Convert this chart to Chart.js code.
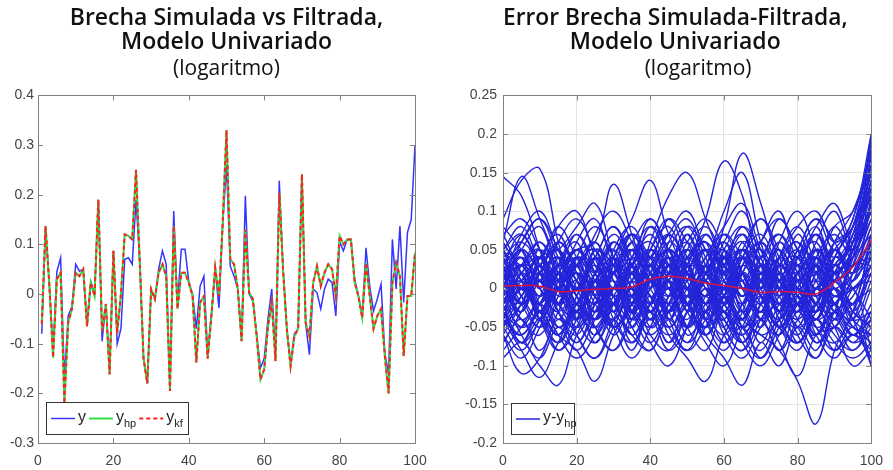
<!DOCTYPE html>
<html>
<head>
<meta charset="utf-8">
<script src="https://cdn.jsdelivr.net/npm/chart.js@4.4.0/dist/chart.umd.min.js"></script>
<style>
  html, body { margin: 0; padding: 0; background: #fff; }
  #wrap { position: relative; width: 893px; height: 470px; }
  #leftChart { position: absolute; left: 0; top: 0; }
  #rightChart { position: absolute; left: 450px; top: 0; }
</style>
</head>
<body>
<div id="wrap">
  <canvas id="leftChart" width="450" height="470"></canvas>
  <canvas id="rightChart" width="443" height="470"></canvas>
</div>
<script>
// ---- data: left panel (periods 1..100) ----
const periods = Array.from({ length: 100 }, (_, i) => i + 1);

const ySim = [
  -0.08, 0.13, 0.02, -0.115, 0.045, 0.073, -0.17, -0.044, -0.025, 0.06,
  0.046, 0.05, -0.06, 0.025, 0.0, 0.19, -0.095, -0.02, -0.15, 0.087,
  -0.1, -0.07, 0.07, 0.073, 0.06, 0.19, 0.063, -0.13, -0.18, 0.01,
  -0.01, 0.05, 0.087, 0.06, -0.19, 0.167, -0.02, 0.09, 0.09, 0.025,
  0.0, -0.07, 0.016, 0.036, -0.12, -0.04, 0.05, -0.028, 0.14, 0.26,
  0.056, 0.036, 0.01, -0.09, 0.198, 0.0, -0.015, -0.08, -0.149, -0.13,
  -0.05, 0.01, -0.12, 0.228, 0.05, -0.07, -0.14, -0.08, -0.07, 0.241,
  -0.06, -0.122, 0.01, 0.003, -0.03, 0.01, 0.03, 0.023, -0.044, 0.105,
  0.087, 0.11, 0.11, 0.03, -0.004, -0.045, 0.093, 0.015, -0.034, -0.01,
  0.02, -0.12, -0.16, 0.11, 0.01, 0.137, -0.017, 0.124, 0.15, 0.30
];

const yHp = [
  -0.06, 0.137, 0.02, -0.128, 0.03, 0.043, -0.22, -0.058, -0.03, 0.043,
  0.036, 0.05, -0.065, 0.023, -0.004, 0.19, -0.075, -0.02, -0.162, 0.087,
  -0.08, 0.0, 0.12, 0.117, 0.11, 0.25, 0.063, -0.13, -0.18, 0.01,
  -0.01, 0.043, 0.06, 0.036, -0.195, 0.137, -0.03, 0.043, 0.043, 0.023,
  -0.004, -0.138, -0.017, -0.004, -0.13, -0.044, 0.053, -0.004, 0.144, 0.33,
  0.07, 0.06, 0.01, -0.095, 0.13, 0.003, -0.01, -0.085, -0.172, -0.152,
  -0.065, -0.017, -0.135, 0.204, 0.05, -0.07, -0.145, -0.085, -0.07, 0.241,
  -0.058, -0.085, 0.023, 0.056, 0.016, 0.043, 0.06, 0.05, -0.004, 0.117,
  0.1, 0.11, 0.11, 0.023, -0.004, -0.048, 0.063, -0.004, -0.07, -0.044,
  -0.03, -0.125, -0.2, 0.023, 0.063, 0.036, -0.125, -0.004, -0.004, 0.083
];

// the Kalman-filter gap sits on top of the HP gap in the picture
const yKf = yHp;

// ---- data: right panel (error runs, read every 5 periods) ----
const errX = [0, 5, 10, 15, 20, 25, 30, 35, 40, 45, 50, 55, 60, 65, 70, 75, 80, 85, 90, 95, 100];

const errMean = [0.003, 0.004, 0.003, -0.004, -0.003, -0.001, 0.0, 0.002, 0.012, 0.016,
  0.013, 0.007, 0.004, 0.0, -0.005, -0.004, -0.005, -0.007, 0.008, 0.028, 0.063];

const errRuns = [
  [0.145, 0.12, 0.05, -0.02, 0.03, -0.04, 0.02, -0.03, 0.04, 0.01, -0.05, 0.02, 0.04, -0.03, 0.01, 0.05, -0.02, 0.03, -0.04, 0.02, 0.08],
  [0.09, 0.14, 0.155, 0.06, -0.02, 0.04, -0.03, 0.05, 0.02, -0.04, 0.03, 0.06, -0.02, 0.01, -0.05, 0.03, 0.04, -0.02, 0.05, 0.01, 0.12],
  [0.06, 0.145, 0.09, 0.03, -0.04, 0.02, 0.05, -0.03, 0.0, 0.04, -0.02, -0.05, 0.03, 0.02, -0.03, 0.04, 0.0, -0.04, 0.02, 0.06, 0.15],
  [0.02, -0.03, 0.04, 0.05, 0.08, 0.11, 0.04, -0.02, 0.03, -0.04, 0.02, 0.05, -0.01, -0.04, 0.03, 0.01, -0.03, 0.05, 0.0, -0.03, 0.02],
  [0.01, 0.04, -0.03, 0.02, 0.05, 0.06, 0.135, 0.07, 0.01, 0.05, 0.02, -0.03, 0.04, 0.02, -0.02, 0.03, 0.06, -0.01, -0.04, 0.05, 0.10],
  [-0.02, 0.03, 0.05, -0.01, 0.02, -0.03, 0.04, 0.09, 0.14, 0.07, 0.03, 0.05, -0.02, 0.03, 0.05, -0.03, 0.02, 0.04, -0.02, 0.03, 0.04],
  [0.03, -0.02, 0.01, 0.04, -0.03, 0.05, 0.02, -0.01, 0.06, 0.12, 0.15, 0.09, 0.03, -0.02, 0.04, 0.01, -0.03, 0.05, 0.02, -0.02, 0.07],
  [0.0, 0.03, -0.02, 0.04, 0.01, -0.03, 0.02, 0.05, -0.01, 0.03, 0.06, 0.02, 0.08, 0.175, 0.11, 0.03, -0.02, 0.04, 0.02, 0.05, 0.14],
  [-0.03, 0.02, 0.04, -0.02, 0.03, 0.05, -0.01, 0.02, 0.04, -0.03, 0.03, 0.09, 0.165, 0.12, 0.03, 0.05, 0.01, -0.03, 0.04, 0.03, 0.18],
  [0.05, 0.01, -0.03, 0.03, 0.06, 0.0, 0.03, -0.02, 0.02, 0.05, 0.03, 0.04, 0.10, 0.15, 0.06, 0.0, 0.04, 0.06, 0.01, 0.04, 0.2],
  [-0.09, -0.07, -0.10, -0.125, -0.06, -0.02, 0.02, -0.03, 0.01, 0.04, -0.02, 0.03, 0.0, -0.04, 0.02, -0.01, 0.03, -0.03, 0.01, -0.04, -0.06],
  [-0.03, -0.05, -0.02, -0.06, -0.08, -0.12, -0.06, -0.02, 0.03, -0.01, 0.02, -0.03, 0.04, 0.01, -0.02, 0.03, -0.01, -0.04, 0.02, -0.02, 0.03],
  [-0.06, -0.11, -0.09, -0.04, -0.07, -0.03, 0.01, -0.04, -0.02, 0.03, -0.03, 0.0, -0.05, 0.02, -0.01, -0.04, 0.01, 0.02, -0.03, 0.0, -0.08],
  [-0.04, -0.08, -0.115, -0.07, -0.03, -0.06, -0.02, 0.02, -0.04, 0.0, -0.06, -0.03, 0.01, -0.05, -0.02, 0.01, -0.04, -0.06, -0.01, -0.04, -0.1],
  [0.02, -0.02, 0.01, -0.04, 0.0, -0.03, 0.02, -0.05, -0.01, -0.06, -0.09, -0.12, -0.06, -0.03, -0.07, -0.02, 0.0, -0.04, -0.02, 0.01, 0.04],
  [-0.01, 0.02, -0.04, 0.0, -0.03, 0.01, -0.05, -0.02, 0.02, -0.04, -0.01, -0.06, -0.09, -0.125, -0.07, -0.1, -0.05, -0.08, -0.03, -0.05, 0.0],
  [0.01, -0.03, 0.02, -0.02, 0.03, -0.01, -0.04, 0.0, -0.03, 0.02, -0.02, -0.05, -0.01, -0.04, -0.06, -0.08, -0.12, -0.175, -0.08, -0.03, 0.06],
  [-0.02, 0.01, -0.03, 0.02, -0.01, -0.04, 0.0, 0.03, -0.02, -0.05, -0.02, 0.01, -0.04, -0.06, -0.03, -0.07, -0.113, -0.06, -0.05, -0.02, -0.1],
  [0.03, 0.0, 0.05, -0.02, 0.03, 0.06, 0.01, -0.03, 0.02, 0.05, -0.01, 0.02, 0.06, 0.0, -0.03, 0.02, 0.05, 0.01, -0.02, 0.04, 0.09],
  [-0.05, -0.02, 0.03, 0.05, -0.01, -0.04, 0.02, 0.05, 0.0, -0.03, 0.04, 0.01, -0.04, 0.03, 0.06, 0.01, -0.03, 0.02, 0.05, 0.02, 0.05],
  [0.05, 0.07, 0.02, -0.03, -0.06, -0.01, 0.04, 0.07, 0.02, -0.02, 0.01, 0.05, 0.03, -0.02, -0.05, 0.0, 0.04, 0.07, 0.03, 0.06, 0.16],
  [0.0, -0.04, -0.06, -0.01, 0.04, 0.02, -0.03, -0.05, 0.01, 0.06, 0.03, -0.02, -0.04, 0.02, 0.05, 0.0, -0.05, -0.02, 0.03, 0.0, -0.04],
  [0.02, 0.05, 0.0, 0.06, 0.02, -0.02, 0.05, 0.08, 0.03, 0.0, 0.07, 0.02, -0.01, 0.06, 0.03, -0.02, 0.02, 0.07, 0.04, 0.07, 0.12],
  [-0.07, -0.03, 0.01, -0.05, -0.02, 0.03, -0.04, -0.07, -0.02, 0.01, -0.05, -0.02, 0.02, -0.03, -0.06, -0.04, -0.01, -0.05, -0.07, -0.03, 0.02],
  [0.04, -0.01, -0.05, 0.0, 0.06, 0.09, 0.03, 0.0, 0.05, 0.08, 0.02, -0.03, 0.02, 0.07, 0.04, 0.09, 0.05, 0.0, 0.06, 0.1, 0.17],
  [-0.01, 0.03, 0.06, 0.02, -0.04, -0.07, -0.02, 0.02, -0.05, -0.02, 0.03, 0.07, 0.02, -0.03, 0.01, -0.04, -0.07, -0.03, 0.0, -0.05, -0.06],
  [0.06, 0.02, -0.02, 0.03, 0.0, 0.04, 0.08, 0.03, -0.02, 0.02, 0.08, 0.05, 0.0, 0.04, 0.09, 0.04, 0.0, 0.03, 0.08, 0.05, 0.1],
  [-0.04, 0.0, -0.03, -0.07, -0.03, 0.01, -0.02, -0.06, -0.08, -0.03, 0.0, -0.04, -0.07, -0.02, 0.02, -0.02, -0.05, -0.09, -0.04, -0.07, -0.03],
  [0.01, -0.02, 0.02, 0.06, 0.03, -0.01, -0.05, -0.01, 0.04, 0.07, 0.03, -0.02, 0.03, 0.06, -0.01, -0.04, 0.0, 0.04, 0.01, 0.08, 0.13],
  [0.03, 0.06, 0.09, 0.04, 0.0, 0.05, 0.03, -0.01, 0.03, 0.07, 0.1, 0.05, 0.02, 0.05, 0.0, 0.06, 0.1, 0.05, 0.01, 0.04, 0.07],
  [-0.03, -0.06, -0.02, 0.02, -0.02, -0.05, -0.08, -0.04, 0.01, -0.03, -0.07, -0.04, 0.0, -0.05, -0.08, -0.03, 0.01, -0.02, -0.06, -0.08, -0.05],
  [0.02, 0.04, 0.0, -0.03, 0.01, 0.07, 0.1, 0.06, 0.01, -0.03, 0.0, 0.04, 0.08, 0.11, 0.05, 0.01, 0.05, 0.09, 0.06, 0.02, 0.11],
  [-0.06, -0.09, -0.05, 0.0, 0.03, -0.01, -0.06, -0.03, -0.07, -0.1, -0.05, 0.0, -0.03, -0.07, -0.04, -0.08, -0.04, 0.0, -0.04, -0.02, 0.0],
  [0.0, 0.05, 0.03, 0.08, 0.1, 0.04, -0.01, 0.03, 0.09, 0.04, -0.02, 0.02, 0.05, 0.0, 0.06, 0.1, 0.04, 0.08, 0.11, 0.06, 0.14],
  [0.04, 0.01, -0.04, -0.08, -0.04, 0.01, 0.04, 0.0, -0.04, -0.01, 0.05, 0.01, -0.05, -0.08, -0.02, 0.02, -0.02, -0.07, -0.03, 0.03, 0.03],
  [-0.02, 0.01, 0.04, 0.0, -0.05, -0.02, 0.03, 0.06, 0.09, 0.05, 0.0, -0.04, -0.01, 0.04, 0.02, -0.03, 0.03, 0.0, 0.05, 0.08, 0.19],
  [0.07, 0.09, 0.05, 0.01, 0.05, 0.02, -0.03, 0.01, 0.05, 0.02, 0.06, 0.09, 0.05, 0.0, 0.03, 0.07, 0.03, -0.01, 0.03, 0.0, 0.03],
  [-0.05, -0.01, 0.02, -0.02, -0.06, -0.09, -0.04, 0.0, -0.03, 0.01, -0.03, -0.07, -0.1, -0.05, -0.01, -0.05, -0.08, -0.04, -0.08, -0.06, -0.09],
  [0.01, 0.07, 0.1, 0.05, 0.01, -0.02, 0.02, 0.07, 0.04, 0.09, 0.06, 0.02, 0.07, 0.04, 0.0, 0.04, 0.08, 0.1, 0.06, 0.09, 0.2],
  [-0.03, -0.07, -0.04, 0.01, 0.05, 0.02, 0.06, 0.03, -0.01, -0.05, -0.08, -0.03, 0.0, 0.05, 0.01, -0.03, -0.06, -0.02, -0.05, -0.1, -0.08],
  [0.02, -0.01, -0.04, 0.01, 0.04, 0.0, -0.05, -0.02, 0.03, 0.0, -0.04, 0.02, 0.05, 0.01, -0.03, 0.03, 0.0, -0.04, 0.01, 0.05, 0.11],
  [-0.02, 0.03, 0.0, -0.05, -0.01, 0.04, 0.01, -0.03, 0.02, 0.05, 0.01, -0.04, 0.0, 0.04, 0.0, -0.05, -0.01, 0.03, -0.02, -0.04, 0.05],
  [0.04, 0.0, 0.03, 0.05, 0.01, -0.03, 0.0, 0.05, 0.02, -0.02, 0.04, 0.06, 0.02, -0.02, 0.02, 0.05, 0.01, -0.03, 0.02, 0.07, 0.15],
  [-0.04, -0.01, 0.02, -0.03, -0.05, 0.0, 0.03, -0.02, -0.05, -0.01, 0.02, -0.03, -0.06, -0.02, 0.01, -0.03, -0.05, 0.0, -0.03, -0.06, -0.02],
  [0.0, 0.04, 0.01, -0.02, 0.03, 0.05, 0.0, 0.03, -0.03, 0.01, 0.05, 0.0, -0.03, 0.02, 0.06, 0.02, -0.02, 0.01, 0.05, 0.03, 0.08],
  [0.03, -0.02, -0.05, -0.02, 0.02, -0.01, -0.04, 0.01, 0.04, 0.0, -0.02, -0.06, -0.02, 0.03, -0.01, -0.05, -0.02, 0.02, -0.01, 0.02, 0.06],
  [-0.01, 0.02, 0.05, 0.02, -0.02, 0.02, 0.06, 0.02, -0.02, 0.03, 0.0, 0.03, 0.06, 0.02, -0.03, 0.01, 0.04, 0.0, 0.04, 0.09, 0.18],
  [0.01, -0.04, -0.01, 0.03, -0.01, -0.05, -0.02, 0.02, -0.01, -0.05, -0.01, 0.02, -0.02, -0.05, -0.01, 0.03, -0.01, -0.05, -0.03, -0.01, 0.04],
  [0.05, 0.02, -0.01, 0.02, 0.05, 0.01, -0.02, 0.04, 0.06, 0.01, -0.02, 0.01, 0.03, -0.01, 0.04, 0.07, 0.02, -0.01, 0.02, 0.04, 0.1],
  [-0.05, -0.02, 0.01, -0.02, -0.04, 0.01, 0.03, -0.01, -0.04, 0.02, 0.04, 0.0, -0.03, -0.06, -0.02, 0.02, -0.02, -0.04, 0.0, -0.03, -0.05],
  [0.02, 0.05, 0.02, -0.02, 0.0, 0.03, -0.01, -0.04, 0.0, 0.04, 0.02, -0.02, 0.01, 0.05, 0.03, -0.01, -0.04, 0.0, 0.03, 0.06, 0.12],
  [-0.03, 0.0, -0.02, 0.02, 0.05, 0.02, -0.02, 0.01, -0.03, -0.06, -0.03, 0.01, 0.04, 0.0, -0.04, -0.01, 0.02, 0.05, 0.01, 0.0, 0.02],
  [0.0, -0.03, 0.02, 0.04, 0.0, -0.04, -0.01, 0.03, 0.05, 0.02, -0.01, 0.03, -0.02, -0.04, 0.01, 0.04, 0.06, 0.02, -0.02, 0.05, 0.13],
  [0.04, 0.06, 0.03, 0.0, -0.03, 0.01, 0.04, 0.0, -0.03, 0.01, 0.04, 0.06, 0.02, -0.01, 0.03, 0.0, -0.03, 0.02, 0.05, 0.01, 0.06],
  [-0.01, -0.05, -0.03, 0.0, 0.02, -0.02, -0.05, -0.02, 0.01, 0.04, 0.0, -0.05, -0.02, 0.0, -0.04, -0.06, -0.02, 0.01, -0.02, -0.05, -0.07],
  [0.01, 0.03, -0.01, 0.03, 0.0, 0.04, 0.02, 0.05, 0.01, -0.01, 0.02, -0.01, 0.02, 0.04, 0.0, 0.03, 0.01, 0.03, 0.0, 0.03, 0.09],
  [-0.02, 0.0, 0.04, 0.01, -0.03, -0.05, 0.0, 0.04, 0.01, -0.02, -0.05, -0.01, 0.03, 0.05, 0.01, -0.03, 0.01, -0.02, -0.05, 0.0, 0.01],
  [0.03, 0.0, -0.03, -0.06, -0.02, 0.02, 0.05, 0.01, -0.03, 0.02, 0.05, 0.02, -0.01, -0.04, 0.0, 0.03, -0.01, -0.03, 0.03, 0.06, 0.16],
  [-0.04, -0.06, -0.02, 0.01, -0.02, -0.04, 0.0, -0.03, -0.06, -0.03, 0.0, -0.04, -0.01, 0.02, -0.02, -0.05, -0.07, -0.03, 0.0, -0.04, -0.03],
  [0.02, 0.01, 0.04, 0.0, 0.04, 0.02, -0.02, 0.02, 0.05, 0.03, 0.0, 0.05, 0.03, 0.05, 0.01, 0.04, 0.02, 0.05, 0.02, 0.05, 0.1],
  [0.06, 0.02, -0.03, 0.03, 0.07, 0.03, -0.02, 0.04, 0.08, 0.03, -0.02, 0.03, 0.07, 0.02, -0.03, 0.04, 0.08, 0.03, -0.02, 0.06, 0.14],
  [-0.06, -0.02, 0.03, -0.03, -0.07, -0.02, 0.03, -0.03, -0.07, -0.02, 0.03, -0.04, -0.08, -0.03, 0.02, -0.04, -0.07, -0.02, 0.02, -0.03, -0.05],
  [0.07, 0.03, 0.06, 0.01, -0.04, 0.02, 0.07, 0.03, -0.02, 0.05, 0.08, 0.03, -0.02, 0.04, 0.07, 0.02, -0.03, 0.04, 0.07, 0.04, 0.13],
  [-0.07, -0.04, -0.08, -0.03, 0.01, -0.05, -0.08, -0.03, 0.01, -0.04, -0.08, -0.05, -0.01, -0.06, -0.09, -0.04, 0.0, -0.05, -0.08, -0.05, -0.09],
  [0.05, 0.08, 0.03, -0.02, 0.04, 0.08, 0.04, -0.01, 0.05, 0.09, 0.04, -0.01, 0.05, 0.08, 0.03, -0.02, 0.04, 0.08, 0.03, 0.07, 0.17],
  [-0.05, -0.08, -0.04, 0.0, -0.06, -0.09, -0.05, -0.01, -0.06, -0.08, -0.03, 0.01, -0.05, -0.08, -0.04, 0.0, -0.06, -0.09, -0.05, -0.07, -0.06],
  [0.0, 0.06, 0.09, 0.05, 0.0, 0.04, 0.08, 0.04, 0.0, 0.06, 0.09, 0.04, 0.0, 0.05, 0.09, 0.05, 0.01, 0.06, 0.1, 0.05, 0.11],
  [-0.02, -0.07, -0.04, -0.08, -0.05, 0.0, -0.05, -0.09, -0.05, 0.0, -0.05, -0.08, -0.03, -0.07, -0.1, -0.06, -0.02, -0.07, -0.05, -0.08, -0.04],
  [0.04, -0.02, 0.02, 0.06, 0.02, -0.03, 0.03, 0.07, 0.02, -0.03, 0.02, 0.06, 0.01, -0.04, 0.01, 0.06, 0.02, -0.03, 0.04, 0.08, 0.15],
  [-0.04, 0.02, -0.02, -0.06, -0.01, 0.04, -0.01, -0.06, -0.02, 0.03, -0.02, -0.06, -0.01, 0.04, -0.01, -0.05, 0.0, 0.04, -0.02, -0.04, 0.01],
  [0.08, 0.05, 0.01, 0.06, 0.09, 0.05, 0.02, 0.07, 0.04, 0.0, 0.05, 0.08, 0.04, 0.01, 0.06, 0.09, 0.05, 0.02, 0.06, 0.08, 0.19],
  [-0.08, -0.05, -0.02, -0.06, -0.09, -0.06, -0.02, -0.07, -0.04, -0.08, -0.05, -0.01, -0.06, -0.09, -0.05, -0.02, -0.07, -0.04, -0.07, -0.09, -0.07],
  [0.03, 0.07, 0.04, 0.08, 0.04, 0.0, 0.06, 0.03, 0.08, 0.05, 0.01, 0.07, 0.04, 0.08, 0.05, 0.01, 0.07, 0.03, 0.08, 0.1, 0.16],
  [-0.03, -0.07, -0.03, -0.06, -0.02, -0.07, -0.04, -0.08, -0.03, -0.07, -0.02, -0.06, -0.03, -0.07, -0.04, -0.08, -0.03, -0.06, -0.02, -0.06, -0.03],
  [0.01, 0.05, 0.08, 0.03, 0.07, 0.02, -0.02, 0.03, 0.07, 0.03, 0.07, 0.02, 0.06, 0.1, 0.04, 0.0, 0.05, 0.09, 0.05, 0.08, 0.12],
  [-0.01, -0.06, -0.09, -0.05, -0.08, -0.04, 0.0, -0.05, -0.08, -0.04, -0.07, -0.03, -0.07, -0.05, -0.09, -0.05, -0.01, -0.06, -0.09, -0.06, -0.08],
  [0.05, 0.0, 0.04, 0.07, 0.03, 0.06, 0.02, 0.06, 0.03, 0.07, 0.03, -0.01, 0.04, 0.07, 0.02, 0.06, 0.03, 0.07, 0.02, 0.05, 0.14],
  [-0.05, 0.0, -0.04, -0.07, -0.03, -0.06, -0.02, -0.06, -0.03, -0.07, -0.03, 0.01, -0.04, -0.07, -0.03, -0.06, -0.02, -0.06, -0.03, -0.06, -0.04],
  [0.02, -0.03, 0.03, -0.02, 0.04, -0.01, 0.04, -0.02, 0.03, -0.03, 0.03, -0.02, 0.04, -0.01, 0.03, -0.03, 0.02, -0.02, 0.04, 0.02, 0.07],
  [-0.02, 0.03, -0.03, 0.02, -0.04, 0.01, -0.03, 0.03, -0.02, 0.04, -0.02, 0.03, -0.03, 0.02, -0.04, 0.02, -0.03, 0.03, -0.01, 0.0, 0.03]
];

// ---- shared style bits ----
const FONT = 'Liberation Sans, Arial, sans-serif';
const tickFont = { family: FONT, size: 14 };
const fmt = v => String(+Number(v).toFixed(2));

// axes box, inward ticks and a legend with subscripts (MATLAB look)
function framePlugin(legend) {
  return {
    id: 'frame',
    afterDatasetsDraw(chart) {
      const { ctx, chartArea: a, scales } = chart;
      ctx.save();
      ctx.strokeStyle = '#808080';
      ctx.lineWidth = 1;
      ctx.beginPath();
      scales.x.ticks.forEach(t => {
        const px = Math.round(scales.x.getPixelForValue(t.value)) + 0.5;
        ctx.moveTo(px, a.bottom); ctx.lineTo(px, a.bottom - 5);
        ctx.moveTo(px, a.top); ctx.lineTo(px, a.top + 5);
      });
      scales.y.ticks.forEach(t => {
        const py = Math.round(scales.y.getPixelForValue(t.value)) + 0.5;
        ctx.moveTo(a.left, py); ctx.lineTo(a.left + 5, py);
        ctx.moveTo(a.right, py); ctx.lineTo(a.right - 5, py);
      });
      ctx.stroke();
      ctx.strokeRect(Math.round(a.left) + 0.5, Math.round(a.top) + 0.5,
        Math.round(a.right - a.left), Math.round(a.bottom - a.top));

      // legend
      const bx = Math.round(a.left + legend.dx), by = Math.round(a.bottom - legend.dy);
      ctx.fillStyle = '#fff';
      ctx.fillRect(bx, by, legend.w, legend.h);
      ctx.strokeStyle = '#333';
      ctx.strokeRect(bx + 0.5, by + 0.5, legend.w, legend.h);
      const cy = by + legend.h / 2 + 0.5;
      let x = bx + 5;
      legend.items.forEach(it => {
        ctx.beginPath();
        ctx.setLineDash(it.dash || []);
        ctx.strokeStyle = it.color;
        ctx.lineWidth = it.width;
        ctx.moveTo(x, cy); ctx.lineTo(x + 24, cy);
        ctx.stroke();
        ctx.setLineDash([]);
        x += 27;
        ctx.fillStyle = '#222';
        ctx.textBaseline = 'middle';
        ctx.font = '16px ' + FONT;
        ctx.fillText(it.text, x, cy - 1);
        x += ctx.measureText(it.text).width;
        if (it.sub) {
          ctx.font = '11px ' + FONT;
          ctx.fillText(it.sub, x, cy + 5);
          x += ctx.measureText(it.sub).width;
        }
        x += 3;
      });
      ctx.restore();
    }
  };
}

function baseOptions(o) {
  return {
    responsive: false,
    animation: false,
    events: [],
    layout: { padding: { left: 0, right: o.padRight, top: 0, bottom: 0 } },
    plugins: {
      legend: { display: false },
      tooltip: { enabled: false },
      title: {
        display: true,
        text: o.title,
        fullSize: false,
        color: '#111',
        font: { family: 'Open Sans, ' + FONT, size: 23, weight: '600', lineHeight: 1.05 },
        padding: { top: 6, bottom: 0 }
      },
      subtitle: {
        display: true,
        text: o.subtitle,
        fullSize: false,
        color: '#111',
        font: { family: 'Open Sans, ' + FONT, size: 21, weight: 'normal', lineHeight: 1.1 },
        padding: { top: 3, bottom: 15 }
      }
    },
    scales: {
      x: {
        type: 'linear', min: 0, max: 100,
        ticks: { stepSize: 20, font: tickFont, color: '#444', padding: 10, maxRotation: 0 },
        grid: { display: o.grid, color: '#e4e4e4', drawTicks: false },
        border: { display: false },
        afterFit: s => { s.height = 27; }
      },
      y: {
        min: o.yMin, max: o.yMax,
        ticks: { stepSize: o.yStep, font: tickFont, color: '#444', padding: o.yPad, callback: fmt },
        grid: { display: o.grid, color: '#e4e4e4', drawTicks: false },
        border: { display: false },
        afterFit: s => { s.width = o.yWidth; }
      }
    }
  };
}

// ---- left chart ----
const pts = (xs, ys) => ys.map((v, i) => ({ x: xs[i], y: v }));

new Chart(document.getElementById('leftChart'), {
  type: 'line',
  data: {
    datasets: [
      { label: 'y_kf', data: pts(periods, yKf), borderColor: '#ff2020', borderWidth: 2,
        borderDash: [4, 3], pointRadius: 0, tension: 0, order: 0 },
      { label: 'y_hp', data: pts(periods, yHp), borderColor: '#33dd44', borderWidth: 2,
        pointRadius: 0, tension: 0, order: 1 },
      { label: 'y', data: pts(periods, ySim), borderColor: '#3535ff', borderWidth: 1.5,
        pointRadius: 0, tension: 0, order: 2 }
    ]
  },
  options: baseOptions({
    title: ['Brecha Simulada vs Filtrada,', 'Modelo Univariado'],
    subtitle: '(logaritmo)',
    padRight: 35, yWidth: 38, yPad: 4, grid: false,
    yMin: -0.3, yMax: 0.4, yStep: 0.1
  }),
  plugins: [framePlugin({
    dx: 8, dy: 41, w: 142, h: 32,
    items: [
      { color: '#3535ff', width: 1.5, text: 'y' },
      { color: '#33dd44', width: 2, text: 'y', sub: 'hp' },
      { color: '#ff2020', width: 2, dash: [4, 3], text: 'y', sub: 'kf' }
    ]
  })]
});

// ---- right chart ----
const runSets = errRuns.map(r => ({
  data: pts(errX, r), borderColor: '#2424d8', borderWidth: 1.4,
  pointRadius: 0, tension: 0.4, order: 1
}));

new Chart(document.getElementById('rightChart'), {
  type: 'line',
  data: {
    datasets: [
      { label: 'media', data: pts(errX, errMean), borderColor: '#d4143c', borderWidth: 1.5,
        pointRadius: 0, tension: 0.4, order: 0 }
    ].concat(runSets)
  },
  options: baseOptions({
    title: ['Error Brecha Simulada-Filtrada,    ', 'Modelo Univariado    '],
    subtitle: '    (logaritmo)',
    padRight: 13, yWidth: 53, yPad: 6, grid: true,
    yMin: -0.2, yMax: 0.25, yStep: 0.05
  }),
  plugins: [framePlugin({
    dx: 8, dy: 40, w: 63, h: 31,
    items: [{ color: '#2424d8', width: 1.5, text: 'y-y', sub: 'hp' }]
  })]
});
</script>
</body>
</html>
